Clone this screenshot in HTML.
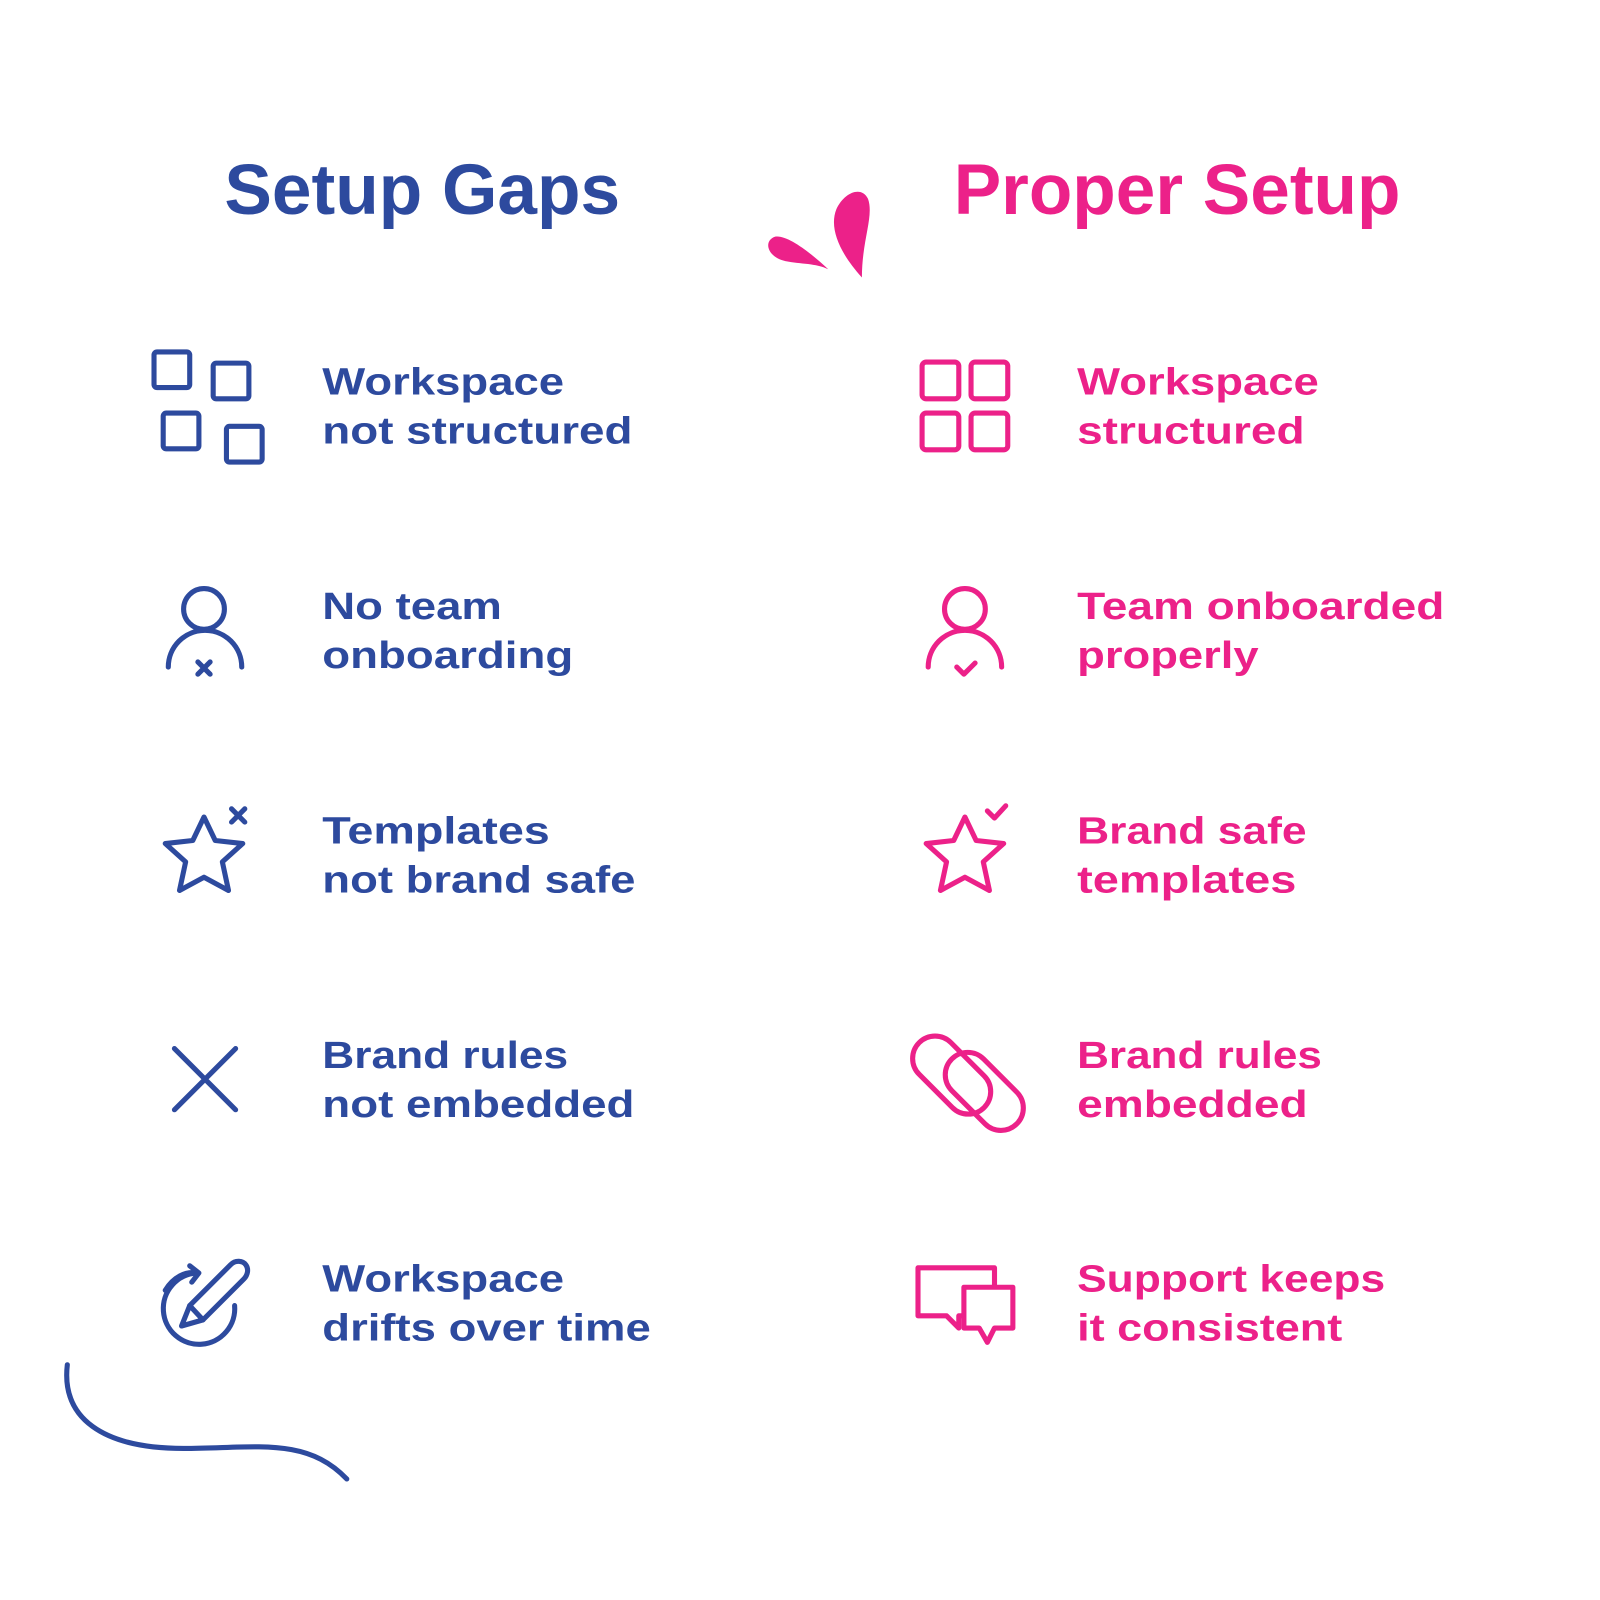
<!DOCTYPE html>
<html><head><style>html,body{margin:0;padding:0;background:#fff}svg{display:block}</style></head><body>
<svg width="1600" height="1600" viewBox="0 0 1600 1600" xmlns="http://www.w3.org/2000/svg">
<g transform="scale(1.02)">
<g font-family="Liberation Sans, sans-serif" font-weight="bold">
<text x="220" y="210" font-size="70" fill="#2d4a9e" textLength="388" lengthAdjust="spacingAndGlyphs">Setup Gaps</text>
<text x="935" y="210" font-size="70" fill="#ec2189" textLength="438" lengthAdjust="spacingAndGlyphs">Proper Setup</text>
<g font-size="37" fill="#2d4a9e">
<text x="316" y="387" textLength="237" lengthAdjust="spacingAndGlyphs">Workspace</text>
<text x="316" y="435" textLength="304" lengthAdjust="spacingAndGlyphs">not structured</text>
<text x="316" y="607" textLength="176" lengthAdjust="spacingAndGlyphs">No team</text>
<text x="316" y="655" textLength="246" lengthAdjust="spacingAndGlyphs">onboarding</text>
<text x="316" y="827" textLength="223" lengthAdjust="spacingAndGlyphs">Templates</text>
<text x="316" y="875" textLength="307" lengthAdjust="spacingAndGlyphs">not brand safe</text>
<text x="316" y="1047" textLength="241" lengthAdjust="spacingAndGlyphs">Brand rules</text>
<text x="316" y="1095" textLength="306" lengthAdjust="spacingAndGlyphs">not embedded</text>
<text x="316" y="1266" textLength="237" lengthAdjust="spacingAndGlyphs">Workspace</text>
<text x="316" y="1314" textLength="322" lengthAdjust="spacingAndGlyphs">drifts over time</text>
</g>
<g font-size="37" fill="#ec2189">
<text x="1056" y="387" textLength="237" lengthAdjust="spacingAndGlyphs">Workspace</text>
<text x="1056" y="435" textLength="223" lengthAdjust="spacingAndGlyphs">structured</text>
<text x="1056" y="607" textLength="360" lengthAdjust="spacingAndGlyphs">Team onboarded</text>
<text x="1056" y="655" textLength="178" lengthAdjust="spacingAndGlyphs">properly</text>
<text x="1056" y="827" textLength="225" lengthAdjust="spacingAndGlyphs">Brand safe</text>
<text x="1056" y="875" textLength="215" lengthAdjust="spacingAndGlyphs">templates</text>
<text x="1056" y="1047" textLength="240" lengthAdjust="spacingAndGlyphs">Brand rules</text>
<text x="1056" y="1095" textLength="226" lengthAdjust="spacingAndGlyphs">embedded</text>
<text x="1056" y="1266" textLength="302" lengthAdjust="spacingAndGlyphs">Support keeps</text>
<text x="1056" y="1314" textLength="260" lengthAdjust="spacingAndGlyphs">it consistent</text>
</g>
</g>
<path d="M845 272 C825 250 812 225 820 205 C828 188 845 182 851 195 C857 212 845 235 845 272 Z" fill="#ec2189"/>
<path d="M812 264 C795 248 772 230 760 232 C748 236 752 252 770 256 C785 259 800 258 812 264 Z" fill="#ec2189"/>
<path d="M66 1338 C60 1390 100 1420 180 1420 C250 1420 300 1408 340 1450" fill="none" stroke="#2d4a9e" stroke-width="5" stroke-linecap="round"/>
<g fill="none" stroke="#2d4a9e" stroke-width="5" stroke-linecap="round" stroke-linejoin="round">
<rect x="151" y="345" width="35" height="35" rx="3"/>
<rect x="209" y="356" width="35" height="35" rx="3"/>
<rect x="160" y="405" width="35" height="35" rx="3"/>
<rect x="222" y="418" width="35" height="35" rx="3"/>
<circle cx="200" cy="597" r="20"/>
<path d="M165 654 A36 36 0 0 1 237 654"/>
<path d="M194 649 L206 661 M206 649 L194 661"/>
<path d="M200 801 L211 824 L238 827 L218 845 L224 873 L200 860 L176 873 L182 845 L162 827 L189 824 Z"/>
<path d="M227 793 L240 806 M240 793 L227 806"/>
<path d="M171 1028 L231 1088 M231 1028 L171 1088"/>
<path d="M193 1248 A35 35 0 1 0 230 1280"/>
<path d="M162 1265 C170 1252 182 1246 193 1248"/>
<path d="M186 1241 L195 1248 L188 1257"/>
<path d="M178 1300 L186 1280 L226 1240 C231 1235 238 1236 241 1240 C244 1244 243 1250 239 1254 L199 1294 Z"/>
<path d="M186 1280 L199 1294"/>
</g>
<g fill="none" stroke="#ec2189" stroke-width="5" stroke-linecap="round" stroke-linejoin="round">
<rect x="904" y="355" width="36" height="36" rx="4"/>
<rect x="952" y="355" width="36" height="36" rx="4"/>
<rect x="904" y="405" width="36" height="36" rx="4"/>
<rect x="952" y="405" width="36" height="36" rx="4"/>
<circle cx="946" cy="597" r="20"/>
<path d="M910 654 A36 36 0 0 1 982 654"/>
<path d="M938 654 L945 661 L956 650"/>
<path d="M946 801 L957 824 L984 827 L964 845 L970 873 L946 860 L922 873 L928 845 L908 827 L935 824 Z"/>
<path d="M968 795 L975 802 L986 790"/>
<rect x="888" y="1032" width="90" height="44" rx="22" transform="rotate(45 933 1054)"/>
<rect x="920" y="1048" width="90" height="44" rx="22" transform="rotate(45 965 1070)"/>
<path d="M900 1243 H975 V1290 H940 V1302 L928 1290 H900 Z" fill="#fff"/>
<path d="M945 1262 H993 V1302 H975 L968 1316 L960 1302 H945 Z" fill="#fff"/>
</g>
</g>
</svg>
</body></html>
